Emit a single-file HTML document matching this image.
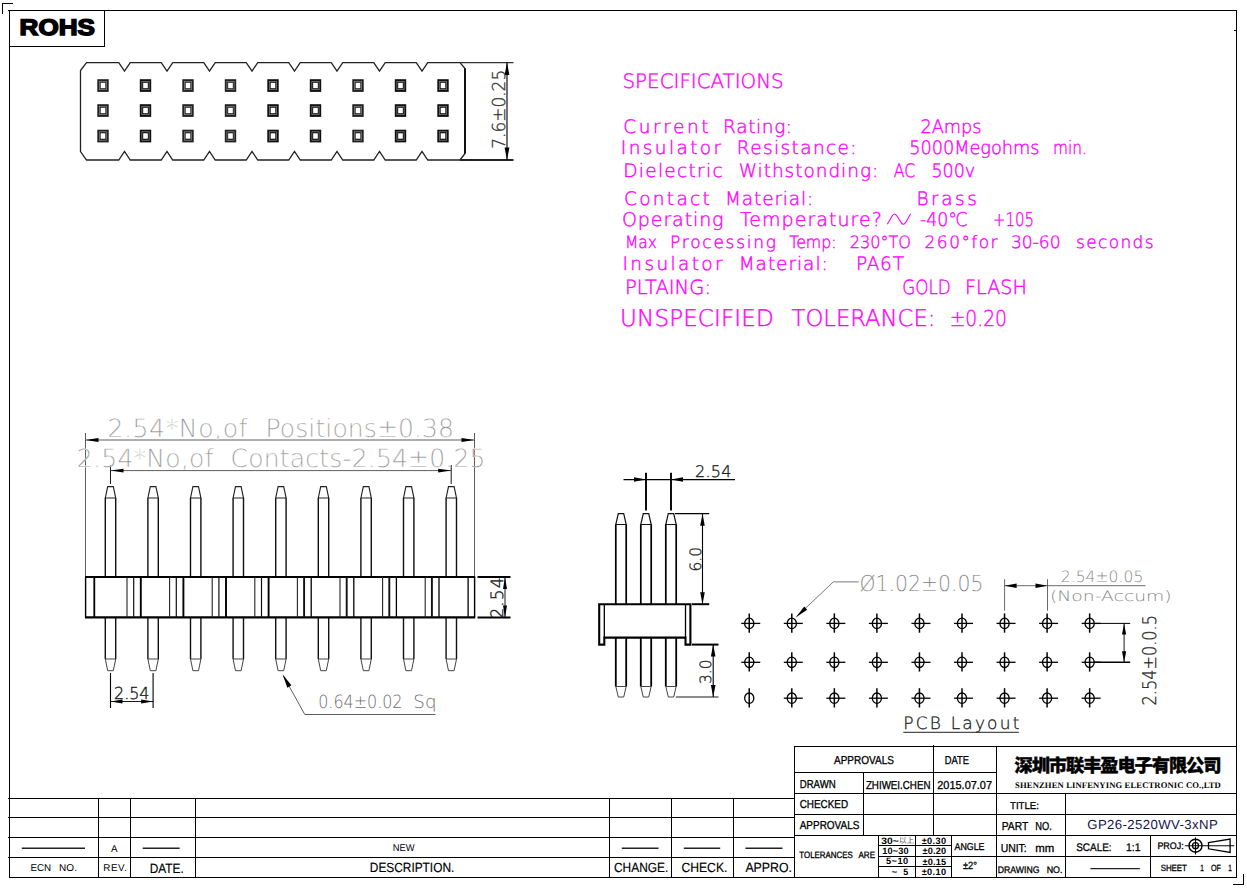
<!DOCTYPE html>
<html><head><meta charset="utf-8"><title>GP26-2520WV-3xNP</title>
<style>html,body{margin:0;padding:0;background:#fff;overflow:hidden}svg{display:block}text{white-space:pre}</style></head>
<body><svg width="1247" height="888" viewBox="0 0 1247 888" text-rendering="geometricPrecision">
<rect width="1247" height="888" fill="#fff"/>
<rect x="8" y="10.0" width="1229" height="1" fill="#000" shape-rendering="crispEdges"/>
<rect x="9.0" y="10" width="1" height="867" fill="#000" shape-rendering="crispEdges"/>
<rect x="1236.0" y="10" width="1" height="784" fill="#000" shape-rendering="crispEdges"/>
<rect x="2" y="3.0" width="11" height="1" fill="#000" shape-rendering="crispEdges"/>
<rect x="2.0" y="3" width="1" height="11" fill="#000" shape-rendering="crispEdges"/>
<rect x="1233" y="884.0" width="11" height="1" fill="#000" shape-rendering="crispEdges"/>
<rect x="1243.0" y="874" width="1" height="11" fill="#000" shape-rendering="crispEdges"/>
<rect x="1234" y="30.0" width="3" height="1" fill="#000" shape-rendering="crispEdges"/>
<rect x="9" y="46.0" width="96" height="1" fill="#000" shape-rendering="crispEdges"/>
<rect x="104.0" y="10" width="1" height="37" fill="#000" shape-rendering="crispEdges"/>
<text x="19.6" y="35.3" font-family="'Liberation Sans',sans-serif" font-size="22.6" fill="#000" font-weight="bold" textLength="75.2" lengthAdjust="spacingAndGlyphs" stroke="#000" stroke-width="1.5" >ROHS</text>
<path d="M86.5,62.6 L118.75,62.6 L124.5,71.1 L130.25,62.6 L161.25,62.6 L167.0,71.1 L172.75,62.6 L203.75,62.6 L209.5,71.1 L215.25,62.6 L246.25,62.6 L252.0,71.1 L257.75,62.6 L288.75,62.6 L294.5,71.1 L300.25,62.6 L331.25,62.6 L337.0,71.1 L342.75,62.6 L373.75,62.6 L379.5,71.1 L385.25,62.6 L416.25,62.6 L422.0,71.1 L427.75,62.6 L460,62.6 L465,68.5 L465,153.5 L460,160 L427.75,160 L422.0,151.5 L416.25,160 L385.25,160 L379.5,151.5 L373.75,160 L342.75,160 L337.0,151.5 L331.25,160 L300.25,160 L294.5,151.5 L288.75,160 L257.75,160 L252.0,151.5 L246.25,160 L215.25,160 L209.5,151.5 L203.75,160 L172.75,160 L167.0,151.5 L161.25,160 L130.25,160 L124.5,151.5 L118.75,160 L86.5,160 L80.5,151.5 L80.5,70.5 Z" stroke="#222" stroke-width="1.3" fill="none" />
<line x1="465" y1="68.5" x2="465" y2="153.5" stroke="#000" stroke-width="1.7" />
<rect x="97.3" y="79.2" width="11.4" height="12.7" fill="#222"/>
<rect x="99.4" y="81.3" width="7.2" height="8.4" fill="none" stroke="#999" stroke-width="0.6"/>
<rect x="100.7" y="82.8" width="4.6" height="5.4" fill="#fff"/>
<rect x="139.8" y="79.2" width="11.4" height="12.7" fill="#111"/>
<rect x="141.9" y="81.3" width="7.2" height="8.4" fill="none" stroke="#999" stroke-width="0.6"/>
<rect x="143.2" y="82.8" width="4.6" height="5.4" fill="#fff"/>
<rect x="182.3" y="79.2" width="11.4" height="12.7" fill="#222"/>
<rect x="184.4" y="81.3" width="7.2" height="8.4" fill="none" stroke="#999" stroke-width="0.6"/>
<rect x="185.7" y="82.8" width="4.6" height="5.4" fill="#fff"/>
<rect x="224.8" y="79.2" width="11.4" height="12.7" fill="#222"/>
<rect x="226.9" y="81.3" width="7.2" height="8.4" fill="none" stroke="#999" stroke-width="0.6"/>
<rect x="228.2" y="82.8" width="4.6" height="5.4" fill="#fff"/>
<rect x="267.3" y="79.2" width="11.4" height="12.7" fill="#111"/>
<rect x="269.4" y="81.3" width="7.2" height="8.4" fill="none" stroke="#999" stroke-width="0.6"/>
<rect x="270.7" y="82.8" width="4.6" height="5.4" fill="#fff"/>
<rect x="309.8" y="79.2" width="11.4" height="12.7" fill="#111"/>
<rect x="311.9" y="81.3" width="7.2" height="8.4" fill="none" stroke="#999" stroke-width="0.6"/>
<rect x="313.2" y="82.8" width="4.6" height="5.4" fill="#fff"/>
<rect x="352.3" y="79.2" width="11.4" height="12.7" fill="#222"/>
<rect x="354.4" y="81.3" width="7.2" height="8.4" fill="none" stroke="#999" stroke-width="0.6"/>
<rect x="355.7" y="82.8" width="4.6" height="5.4" fill="#fff"/>
<rect x="394.8" y="79.2" width="11.4" height="12.7" fill="#111"/>
<rect x="396.9" y="81.3" width="7.2" height="8.4" fill="none" stroke="#999" stroke-width="0.6"/>
<rect x="398.2" y="82.8" width="4.6" height="5.4" fill="#fff"/>
<rect x="437.3" y="79.2" width="11.4" height="12.7" fill="#111"/>
<rect x="439.4" y="81.3" width="7.2" height="8.4" fill="none" stroke="#999" stroke-width="0.6"/>
<rect x="440.7" y="82.8" width="4.6" height="5.4" fill="#fff"/>
<rect x="97.3" y="104.2" width="11.4" height="12.7" fill="#222"/>
<rect x="99.4" y="106.3" width="7.2" height="8.4" fill="none" stroke="#999" stroke-width="0.6"/>
<rect x="100.7" y="107.8" width="4.6" height="5.4" fill="#fff"/>
<rect x="139.8" y="104.2" width="11.4" height="12.7" fill="#111"/>
<rect x="141.9" y="106.3" width="7.2" height="8.4" fill="none" stroke="#999" stroke-width="0.6"/>
<rect x="143.2" y="107.8" width="4.6" height="5.4" fill="#fff"/>
<rect x="182.3" y="104.2" width="11.4" height="12.7" fill="#222"/>
<rect x="184.4" y="106.3" width="7.2" height="8.4" fill="none" stroke="#999" stroke-width="0.6"/>
<rect x="185.7" y="107.8" width="4.6" height="5.4" fill="#fff"/>
<rect x="224.8" y="104.2" width="11.4" height="12.7" fill="#222"/>
<rect x="226.9" y="106.3" width="7.2" height="8.4" fill="none" stroke="#999" stroke-width="0.6"/>
<rect x="228.2" y="107.8" width="4.6" height="5.4" fill="#fff"/>
<rect x="267.3" y="104.2" width="11.4" height="12.7" fill="#111"/>
<rect x="269.4" y="106.3" width="7.2" height="8.4" fill="none" stroke="#999" stroke-width="0.6"/>
<rect x="270.7" y="107.8" width="4.6" height="5.4" fill="#fff"/>
<rect x="309.8" y="104.2" width="11.4" height="12.7" fill="#111"/>
<rect x="311.9" y="106.3" width="7.2" height="8.4" fill="none" stroke="#999" stroke-width="0.6"/>
<rect x="313.2" y="107.8" width="4.6" height="5.4" fill="#fff"/>
<rect x="352.3" y="104.2" width="11.4" height="12.7" fill="#222"/>
<rect x="354.4" y="106.3" width="7.2" height="8.4" fill="none" stroke="#999" stroke-width="0.6"/>
<rect x="355.7" y="107.8" width="4.6" height="5.4" fill="#fff"/>
<rect x="394.8" y="104.2" width="11.4" height="12.7" fill="#111"/>
<rect x="396.9" y="106.3" width="7.2" height="8.4" fill="none" stroke="#999" stroke-width="0.6"/>
<rect x="398.2" y="107.8" width="4.6" height="5.4" fill="#fff"/>
<rect x="437.3" y="104.2" width="11.4" height="12.7" fill="#111"/>
<rect x="439.4" y="106.3" width="7.2" height="8.4" fill="none" stroke="#999" stroke-width="0.6"/>
<rect x="440.7" y="107.8" width="4.6" height="5.4" fill="#fff"/>
<rect x="97.3" y="129.7" width="11.4" height="12.7" fill="#222"/>
<rect x="99.4" y="131.8" width="7.2" height="8.4" fill="none" stroke="#999" stroke-width="0.6"/>
<rect x="100.7" y="133.3" width="4.6" height="5.4" fill="#fff"/>
<rect x="139.8" y="129.7" width="11.4" height="12.7" fill="#111"/>
<rect x="141.9" y="131.8" width="7.2" height="8.4" fill="none" stroke="#999" stroke-width="0.6"/>
<rect x="143.2" y="133.3" width="4.6" height="5.4" fill="#fff"/>
<rect x="182.3" y="129.7" width="11.4" height="12.7" fill="#222"/>
<rect x="184.4" y="131.8" width="7.2" height="8.4" fill="none" stroke="#999" stroke-width="0.6"/>
<rect x="185.7" y="133.3" width="4.6" height="5.4" fill="#fff"/>
<rect x="224.8" y="129.7" width="11.4" height="12.7" fill="#222"/>
<rect x="226.9" y="131.8" width="7.2" height="8.4" fill="none" stroke="#999" stroke-width="0.6"/>
<rect x="228.2" y="133.3" width="4.6" height="5.4" fill="#fff"/>
<rect x="267.3" y="129.7" width="11.4" height="12.7" fill="#111"/>
<rect x="269.4" y="131.8" width="7.2" height="8.4" fill="none" stroke="#999" stroke-width="0.6"/>
<rect x="270.7" y="133.3" width="4.6" height="5.4" fill="#fff"/>
<rect x="309.8" y="129.7" width="11.4" height="12.7" fill="#111"/>
<rect x="311.9" y="131.8" width="7.2" height="8.4" fill="none" stroke="#999" stroke-width="0.6"/>
<rect x="313.2" y="133.3" width="4.6" height="5.4" fill="#fff"/>
<rect x="352.3" y="129.7" width="11.4" height="12.7" fill="#222"/>
<rect x="354.4" y="131.8" width="7.2" height="8.4" fill="none" stroke="#999" stroke-width="0.6"/>
<rect x="355.7" y="133.3" width="4.6" height="5.4" fill="#fff"/>
<rect x="394.8" y="129.7" width="11.4" height="12.7" fill="#111"/>
<rect x="396.9" y="131.8" width="7.2" height="8.4" fill="none" stroke="#999" stroke-width="0.6"/>
<rect x="398.2" y="133.3" width="4.6" height="5.4" fill="#fff"/>
<rect x="437.3" y="129.7" width="11.4" height="12.7" fill="#111"/>
<rect x="439.4" y="131.8" width="7.2" height="8.4" fill="none" stroke="#999" stroke-width="0.6"/>
<rect x="440.7" y="133.3" width="4.6" height="5.4" fill="#fff"/>
<line x1="460" y1="62.6" x2="513.5" y2="62.6" stroke="#333" stroke-width="1.1" />
<line x1="460" y1="160" x2="513.5" y2="160" stroke="#222" stroke-width="1.9" />
<line x1="507" y1="62.6" x2="507" y2="160" stroke="#111" stroke-width="1.2" />
<polygon points="507.00,62.60 509.40,75.10 504.60,75.10" fill="#000"/>
<polygon points="507.00,160.00 504.60,147.50 509.40,147.50" fill="#000"/>
<text x="505.3" y="148.8" font-family="'DejaVu Sans Light','DejaVu Sans','Liberation Sans',sans-serif" font-size="17.8" fill="#333" textLength="79" lengthAdjust="spacingAndGlyphs" transform="rotate(-90 505.3 148.8)" stroke="#333" stroke-width="0.35" >7.6±0.25</text>
<text font-family="'DejaVu Sans Light','DejaVu Sans','Liberation Sans',sans-serif" font-size="20" fill="#ff00ff" stroke="#ff00ff" stroke-width="0.4"><tspan x="622.5" y="88.2" textLength="161.2" lengthAdjust="spacingAndGlyphs">SPECIFICATIONS</tspan></text>
<text font-family="'DejaVu Sans Light','DejaVu Sans','Liberation Sans',sans-serif" font-size="18.5" fill="#ff00ff" stroke="#ff00ff" stroke-width="0.4"><tspan x="623.2" y="132.6" textLength="85.4" lengthAdjust="spacing">Current</tspan> <tspan x="723.1" y="132.6" textLength="69.0" lengthAdjust="spacing">Rating:</tspan> <tspan x="920.5" y="132.6" textLength="60.9" lengthAdjust="spacingAndGlyphs">2Amps</tspan></text>
<text font-family="'DejaVu Sans Light','DejaVu Sans','Liberation Sans',sans-serif" font-size="18.5" fill="#ff00ff" stroke="#ff00ff" stroke-width="0.4"><tspan x="620.8" y="154.3" textLength="100.3" lengthAdjust="spacing">Insulator</tspan> <tspan x="736.8" y="154.3" textLength="119.8" lengthAdjust="spacing">Resistance:</tspan> <tspan x="909.2" y="154.3" textLength="130.3" lengthAdjust="spacingAndGlyphs">5000Megohms</tspan> <tspan x="1053" y="154.3" textLength="33.8" lengthAdjust="spacingAndGlyphs">min.</tspan></text>
<text font-family="'DejaVu Sans Light','DejaVu Sans','Liberation Sans',sans-serif" font-size="18.5" fill="#ff00ff" stroke="#ff00ff" stroke-width="0.4"><tspan x="623.2" y="177.2" textLength="99.4" lengthAdjust="spacing">Dielectric</tspan> <tspan x="738.7" y="177.2" textLength="139.5" lengthAdjust="spacing">Withstonding:</tspan> <tspan x="893.7" y="177.2" textLength="21.4" lengthAdjust="spacingAndGlyphs">AC</tspan> <tspan x="931.4" y="177.2" textLength="43.7" lengthAdjust="spacingAndGlyphs">500v</tspan></text>
<text font-family="'DejaVu Sans Light','DejaVu Sans','Liberation Sans',sans-serif" font-size="18.5" fill="#ff00ff" stroke="#ff00ff" stroke-width="0.4"><tspan x="624" y="205" textLength="85.8" lengthAdjust="spacing">Contact</tspan> <tspan x="725" y="205" textLength="88.3" lengthAdjust="spacing">Material:</tspan> <tspan x="916.5" y="205" textLength="60.3" lengthAdjust="spacing">Brass</tspan></text>
<text font-family="'DejaVu Sans Light','DejaVu Sans','Liberation Sans',sans-serif" font-size="19" fill="#ff00ff" stroke="#ff00ff" stroke-width="0.4"><tspan x="622" y="225.7" textLength="101.5" lengthAdjust="spacing">Operating</tspan> <tspan x="739.9" y="225.7" textLength="141.9" lengthAdjust="spacing">Temperature?</tspan></text>
<path d="M887.3,224.3 L892.3,215.8 Q894.5,212.3 896.8,215.8 L901.2,222.6 Q903.4,226 905.7,222.4 L910.6,213.8" stroke="#ff00ff" stroke-width="1.1" fill="none" />
<text font-family="'DejaVu Sans Light','DejaVu Sans','Liberation Sans',sans-serif" font-size="19" fill="#ff00ff" stroke="#ff00ff" stroke-width="0.4"><tspan x="920" y="225.7" textLength="47.8" lengthAdjust="spacingAndGlyphs">-40℃</tspan> <tspan x="993" y="225.7" textLength="41" lengthAdjust="spacingAndGlyphs">+105</tspan></text>
<text font-family="'DejaVu Sans Light','DejaVu Sans','Liberation Sans',sans-serif" font-size="17" fill="#ff00ff" stroke="#ff00ff" stroke-width="0.4"><tspan x="624.9" y="248.3" textLength="32.0" lengthAdjust="spacingAndGlyphs">Max</tspan> <tspan x="670.1" y="248.3" textLength="105.9" lengthAdjust="spacing">Processing</tspan> <tspan x="789.2" y="248.3" textLength="47.4" lengthAdjust="spacingAndGlyphs">Temp:</tspan> <tspan x="849.8" y="248.3" textLength="61.2" lengthAdjust="spacingAndGlyphs">230°TO</tspan> <tspan x="924.6" y="248.3" textLength="73.0" lengthAdjust="spacing">260°for</tspan> <tspan x="1011" y="248.3" textLength="49.5" lengthAdjust="spacing">30-60</tspan> <tspan x="1076" y="248.3" textLength="77.5" lengthAdjust="spacing">seconds</tspan></text>
<text font-family="'DejaVu Sans Light','DejaVu Sans','Liberation Sans',sans-serif" font-size="18.5" fill="#ff00ff" stroke="#ff00ff" stroke-width="0.4"><tspan x="622.5" y="270.2" textLength="100.1" lengthAdjust="spacing">Insulator</tspan> <tspan x="738.7" y="270.2" textLength="89.0" lengthAdjust="spacing">Material:</tspan> <tspan x="855.9" y="270.2" textLength="48.1" lengthAdjust="spacing">PA6T</tspan></text>
<text font-family="'DejaVu Sans Light','DejaVu Sans','Liberation Sans',sans-serif" font-size="19.5" fill="#ff00ff" stroke="#ff00ff" stroke-width="0.4"><tspan x="624.9" y="293.8" textLength="86.1" lengthAdjust="spacing">PLTAING:</tspan> <tspan x="902.2" y="293.8" textLength="48.6" lengthAdjust="spacingAndGlyphs">GOLD</tspan> <tspan x="965.1" y="293.8" textLength="61.7" lengthAdjust="spacingAndGlyphs">FLASH</tspan></text>
<text font-family="'DejaVu Sans Light','DejaVu Sans','Liberation Sans',sans-serif" font-size="23" fill="#ff00ff" stroke="#ff00ff" stroke-width="0.4"><tspan x="620.1" y="326" textLength="153.5" lengthAdjust="spacing">UNSPECIFIED</tspan> <tspan x="791.6" y="326" textLength="143.8" lengthAdjust="spacingAndGlyphs">TOLERANCE:</tspan></text>
<text font-family="'DejaVu Sans Light','DejaVu Sans','Liberation Sans',sans-serif" font-size="22" fill="#ff00ff" stroke="#ff00ff" stroke-width="0.4"><tspan x="949.7" y="325.5" textLength="57.3" lengthAdjust="spacingAndGlyphs">±0.20</tspan></text>
<line x1="85.5" y1="433" x2="85.5" y2="577" stroke="#333" stroke-width="0.8" />
<line x1="474.5" y1="433" x2="474.5" y2="577" stroke="#333" stroke-width="0.8" />
<line x1="85.5" y1="440" x2="474.5" y2="440" stroke="#333" stroke-width="0.8" />
<polygon points="85.50,440.00 98.50,438.10 98.50,441.90" fill="#000"/>
<polygon points="474.50,440.00 461.50,441.90 461.50,438.10" fill="#000"/>
<text font-family="'DejaVu Sans Light','DejaVu Sans','Liberation Sans',sans-serif" font-size="25" fill="#7d7d7d" stroke="#fff" stroke-width="0.35"><tspan x="107.4" y="437" textLength="140.1" lengthAdjust="spacing">2.54*No,of</tspan> <tspan x="265.5" y="437" textLength="188.5" lengthAdjust="spacing">Positions±0.38</tspan></text>
<line x1="110.5" y1="465" x2="110.5" y2="484" stroke="#000" stroke-width="0.9" />
<line x1="451.2" y1="465" x2="451.2" y2="484" stroke="#000" stroke-width="0.9" />
<line x1="110.5" y1="470.6" x2="451.2" y2="470.6" stroke="#333" stroke-width="0.8" />
<polygon points="110.50,470.60 123.50,468.70 123.50,472.50" fill="#000"/>
<polygon points="451.20,470.60 438.20,472.50 438.20,468.70" fill="#000"/>
<text font-family="'DejaVu Sans Light','DejaVu Sans','Liberation Sans',sans-serif" font-size="25" fill="#7d7d7d" stroke="#fff" stroke-width="0.35"><tspan x="76.8" y="467" textLength="136.7" lengthAdjust="spacing">2.54*No,of</tspan> <tspan x="230.5" y="467" textLength="255.0" lengthAdjust="spacing">Contacts-2.54±0.25</tspan></text>
<path d="M105.3,577 V498 M115.7,498 V577" stroke="#111" stroke-width="1.4" fill="none" />
<path d="M105.3,498 L107.7,486.6 H113.3 L115.7,498 Z" stroke="#222" stroke-width="1.15" fill="none" />
<path d="M105.3,617.5 V659 M115.7,659 V617.5" stroke="#111" stroke-width="1.4" fill="none" />
<path d="M105.3,659 L107.7,670.7 H113.3 L115.7,659 Z" stroke="#444" stroke-width="1.0" fill="none" />
<path d="M147.9,577 V498 M158.29999999999998,498 V577" stroke="#111" stroke-width="1.4" fill="none" />
<path d="M147.9,498 L150.29999999999998,486.6 H155.9 L158.29999999999998,498 Z" stroke="#222" stroke-width="1.15" fill="none" />
<path d="M147.9,617.5 V659 M158.29999999999998,659 V617.5" stroke="#111" stroke-width="1.4" fill="none" />
<path d="M147.9,659 L150.29999999999998,670.7 H155.9 L158.29999999999998,659 Z" stroke="#444" stroke-width="1.0" fill="none" />
<path d="M190.5,577 V498 M200.89999999999998,498 V577" stroke="#111" stroke-width="1.4" fill="none" />
<path d="M190.5,498 L192.89999999999998,486.6 H198.5 L200.89999999999998,498 Z" stroke="#222" stroke-width="1.15" fill="none" />
<path d="M190.5,617.5 V659 M200.89999999999998,659 V617.5" stroke="#111" stroke-width="1.4" fill="none" />
<path d="M190.5,659 L192.89999999999998,670.7 H198.5 L200.89999999999998,659 Z" stroke="#444" stroke-width="1.0" fill="none" />
<path d="M233.10000000000002,577 V498 M243.5,498 V577" stroke="#111" stroke-width="1.4" fill="none" />
<path d="M233.10000000000002,498 L235.5,486.6 H241.10000000000002 L243.5,498 Z" stroke="#222" stroke-width="1.15" fill="none" />
<path d="M233.10000000000002,617.5 V659 M243.5,659 V617.5" stroke="#111" stroke-width="1.4" fill="none" />
<path d="M233.10000000000002,659 L235.5,670.7 H241.10000000000002 L243.5,659 Z" stroke="#444" stroke-width="1.0" fill="none" />
<path d="M275.7,577 V498 M286.09999999999997,498 V577" stroke="#111" stroke-width="1.4" fill="none" />
<path d="M275.7,498 L278.09999999999997,486.6 H283.7 L286.09999999999997,498 Z" stroke="#222" stroke-width="1.15" fill="none" />
<path d="M275.7,617.5 V659 M286.09999999999997,659 V617.5" stroke="#111" stroke-width="1.4" fill="none" />
<path d="M275.7,659 L278.09999999999997,670.7 H283.7 L286.09999999999997,659 Z" stroke="#444" stroke-width="1.0" fill="none" />
<path d="M318.3,577 V498 M328.7,498 V577" stroke="#111" stroke-width="1.4" fill="none" />
<path d="M318.3,498 L320.7,486.6 H326.3 L328.7,498 Z" stroke="#222" stroke-width="1.15" fill="none" />
<path d="M318.3,617.5 V659 M328.7,659 V617.5" stroke="#111" stroke-width="1.4" fill="none" />
<path d="M318.3,659 L320.7,670.7 H326.3 L328.7,659 Z" stroke="#444" stroke-width="1.0" fill="none" />
<path d="M360.90000000000003,577 V498 M371.3,498 V577" stroke="#111" stroke-width="1.4" fill="none" />
<path d="M360.90000000000003,498 L363.3,486.6 H368.90000000000003 L371.3,498 Z" stroke="#222" stroke-width="1.15" fill="none" />
<path d="M360.90000000000003,617.5 V659 M371.3,659 V617.5" stroke="#111" stroke-width="1.4" fill="none" />
<path d="M360.90000000000003,659 L363.3,670.7 H368.90000000000003 L371.3,659 Z" stroke="#444" stroke-width="1.0" fill="none" />
<path d="M403.5,577 V498 M413.9,498 V577" stroke="#111" stroke-width="1.4" fill="none" />
<path d="M403.5,498 L405.9,486.6 H411.5 L413.9,498 Z" stroke="#222" stroke-width="1.15" fill="none" />
<path d="M403.5,617.5 V659 M413.9,659 V617.5" stroke="#111" stroke-width="1.4" fill="none" />
<path d="M403.5,659 L405.9,670.7 H411.5 L413.9,659 Z" stroke="#444" stroke-width="1.0" fill="none" />
<path d="M446.1,577 V498 M456.5,498 V577" stroke="#111" stroke-width="1.4" fill="none" />
<path d="M446.1,498 L448.5,486.6 H454.1 L456.5,498 Z" stroke="#222" stroke-width="1.15" fill="none" />
<path d="M446.1,617.5 V659 M456.5,659 V617.5" stroke="#111" stroke-width="1.4" fill="none" />
<path d="M446.1,659 L448.5,670.7 H454.1 L456.5,659 Z" stroke="#444" stroke-width="1.0" fill="none" />
<line x1="85" y1="577" x2="475.2" y2="577" stroke="#000" stroke-width="2.2" />
<line x1="85" y1="617.4" x2="475.2" y2="617.4" stroke="#000" stroke-width="2.2" />
<line x1="85.6" y1="577" x2="85.6" y2="617.4" stroke="#000" stroke-width="1.4" />
<line x1="474.6" y1="577" x2="474.6" y2="617.4" stroke="#000" stroke-width="1.4" />
<line x1="94.3" y1="577" x2="94.3" y2="617.4" stroke="#000" stroke-width="1.8" />
<line x1="468.1" y1="577" x2="468.1" y2="617.4" stroke="#000" stroke-width="1.3" />
<line x1="127.00000000000001" y1="577" x2="127.00000000000001" y2="617.4" stroke="#222" stroke-width="1.1" />
<line x1="133.70000000000002" y1="577" x2="133.70000000000002" y2="617.4" stroke="#111" stroke-width="1.2" />
<line x1="140.8" y1="577" x2="140.8" y2="617.4" stroke="#000" stroke-width="1.9" />
<line x1="169.6" y1="577" x2="169.6" y2="617.4" stroke="#222" stroke-width="1.1" />
<line x1="176.3" y1="577" x2="176.3" y2="617.4" stroke="#111" stroke-width="1.2" />
<line x1="183.4" y1="577" x2="183.4" y2="617.4" stroke="#000" stroke-width="1.9" />
<line x1="212.2" y1="577" x2="212.2" y2="617.4" stroke="#222" stroke-width="1.1" />
<line x1="218.9" y1="577" x2="218.9" y2="617.4" stroke="#111" stroke-width="1.2" />
<line x1="226.0" y1="577" x2="226.0" y2="617.4" stroke="#000" stroke-width="1.9" />
<line x1="254.8" y1="577" x2="254.8" y2="617.4" stroke="#222" stroke-width="1.1" />
<line x1="261.5" y1="577" x2="261.5" y2="617.4" stroke="#111" stroke-width="1.2" />
<line x1="268.6" y1="577" x2="268.6" y2="617.4" stroke="#000" stroke-width="1.9" />
<line x1="297.4" y1="577" x2="297.4" y2="617.4" stroke="#222" stroke-width="1.1" />
<line x1="304.09999999999997" y1="577" x2="304.09999999999997" y2="617.4" stroke="#111" stroke-width="1.9" />
<line x1="311.2" y1="577" x2="311.2" y2="617.4" stroke="#000" stroke-width="1.3" />
<line x1="340.0" y1="577" x2="340.0" y2="617.4" stroke="#222" stroke-width="1.1" />
<line x1="346.7" y1="577" x2="346.7" y2="617.4" stroke="#111" stroke-width="1.9" />
<line x1="353.8" y1="577" x2="353.8" y2="617.4" stroke="#000" stroke-width="1.3" />
<line x1="382.6" y1="577" x2="382.6" y2="617.4" stroke="#222" stroke-width="1.1" />
<line x1="389.3" y1="577" x2="389.3" y2="617.4" stroke="#111" stroke-width="1.9" />
<line x1="396.40000000000003" y1="577" x2="396.40000000000003" y2="617.4" stroke="#000" stroke-width="1.3" />
<line x1="425.2" y1="577" x2="425.2" y2="617.4" stroke="#222" stroke-width="1.1" />
<line x1="431.9" y1="577" x2="431.9" y2="617.4" stroke="#111" stroke-width="1.9" />
<line x1="439.0" y1="577" x2="439.0" y2="617.4" stroke="#000" stroke-width="1.3" />
<line x1="477.5" y1="577" x2="510.5" y2="577" stroke="#000" stroke-width="2" />
<line x1="477.5" y1="617.4" x2="510.5" y2="617.4" stroke="#000" stroke-width="2" />
<line x1="505" y1="577" x2="505" y2="617.4" stroke="#000" stroke-width="0.9" />
<polygon points="505.00,577.00 507.00,589.00 503.00,589.00" fill="#000"/>
<polygon points="505.00,617.40 503.00,605.40 507.00,605.40" fill="#000"/>
<text x="503" y="618.5" font-family="'DejaVu Sans Light','DejaVu Sans','Liberation Sans',sans-serif" font-size="17" fill="#222" textLength="41" lengthAdjust="spacing" transform="rotate(-90 503 618.5)" stroke="#222" stroke-width="0.4" >2.54</text>
<line x1="110.5" y1="673" x2="110.5" y2="708" stroke="#000" stroke-width="1.1" />
<line x1="153.1" y1="673" x2="153.1" y2="708" stroke="#000" stroke-width="1.1" />
<line x1="110.5" y1="701.5" x2="153.1" y2="701.5" stroke="#000" stroke-width="0.9" />
<polygon points="110.50,701.50 122.50,699.40 122.50,703.60" fill="#000"/>
<polygon points="153.10,701.50 141.10,703.60 141.10,699.40" fill="#000"/>
<text x="114" y="698.8" font-family="'DejaVu Sans Light','DejaVu Sans','Liberation Sans',sans-serif" font-size="16.5" fill="#222" textLength="35.5" lengthAdjust="spacingAndGlyphs" stroke="#222" stroke-width="0.4" >2.54</text>
<path d="M283.5,676 L304.8,714.5 H435.5" stroke="#333" stroke-width="0.8" fill="none" />
<polygon points="282.50,674.30 291.37,685.37 287.37,687.63" fill="#000"/>
<text font-family="'DejaVu Sans Light','DejaVu Sans','Liberation Sans',sans-serif" font-size="18.3" fill="#6e6e6e"><tspan x="318.2" y="707.8" textLength="84.3" lengthAdjust="spacingAndGlyphs">0.64±0.02</tspan> <tspan x="413.2" y="707.8" textLength="23.3" lengthAdjust="spacing">Sq</tspan></text>
<path d="M615.8,604 V524.5 M626.2,524.5 V604" stroke="#000" stroke-width="1.7" fill="none" />
<path d="M615.8,524.5 L618.3,513.7 H623.7 L626.2,524.5 Z" stroke="#111" stroke-width="1.2" fill="none" />
<path d="M615.8,637.6 V686.5 M626.2,686.5 V637.6" stroke="#000" stroke-width="1.8" fill="none" />
<path d="M615.8,686.5 L618.3,697 H623.7 L626.2,686.5 Z" stroke="#444" stroke-width="1.0" fill="none" />
<path d="M640.8,604 V524.5 M651.2,524.5 V604" stroke="#000" stroke-width="1.7" fill="none" />
<path d="M640.8,524.5 L643.3,513.7 H648.7 L651.2,524.5 Z" stroke="#111" stroke-width="1.2" fill="none" />
<path d="M640.8,637.6 V686.5 M651.2,686.5 V637.6" stroke="#000" stroke-width="1.8" fill="none" />
<path d="M640.8,686.5 L643.3,697 H648.7 L651.2,686.5 Z" stroke="#444" stroke-width="1.0" fill="none" />
<path d="M665.8,604 V524.5 M676.2,524.5 V604" stroke="#000" stroke-width="1.7" fill="none" />
<path d="M665.8,524.5 L668.3,513.7 H673.7 L676.2,524.5 Z" stroke="#111" stroke-width="1.2" fill="none" />
<path d="M665.8,637.6 V686.5 M676.2,686.5 V637.6" stroke="#000" stroke-width="1.8" fill="none" />
<path d="M665.8,686.5 L668.3,697 H673.7 L676.2,686.5 Z" stroke="#444" stroke-width="1.0" fill="none" />
<path d="M599.2,604.2 H690.4 V644.6 H685.5 V637.6 H604.3 V644.6 H599.2 Z" stroke="#000" stroke-width="2.1" fill="none" />
<line x1="604.3" y1="604.2" x2="604.3" y2="637.6" stroke="#000" stroke-width="1.3" />
<line x1="685.5" y1="604.2" x2="685.5" y2="637.6" stroke="#000" stroke-width="1.3" />
<line x1="646" y1="472.8" x2="646" y2="510.5" stroke="#000" stroke-width="1.9" />
<line x1="671" y1="472.8" x2="671" y2="510.5" stroke="#000" stroke-width="1.9" />
<line x1="623.5" y1="479.6" x2="735" y2="479.6" stroke="#000" stroke-width="1.2" />
<polygon points="646.00,479.50 634.00,481.70 634.00,477.30" fill="#000"/>
<polygon points="671.00,479.50 683.00,477.30 683.00,481.70" fill="#000"/>
<text x="695" y="476.6" font-family="'DejaVu Sans Light','DejaVu Sans','Liberation Sans',sans-serif" font-size="16" fill="#222" textLength="36.5" lengthAdjust="spacing" stroke="#222" stroke-width="0.35" >2.54</text>
<line x1="675" y1="513.7" x2="709.2" y2="513.7" stroke="#000" stroke-width="1.3" />
<line x1="692" y1="604.2" x2="709.2" y2="604.2" stroke="#000" stroke-width="2" />
<line x1="702.5" y1="513.7" x2="702.5" y2="604.2" stroke="#000" stroke-width="1.1" />
<polygon points="702.50,513.70 704.80,525.70 700.20,525.70" fill="#000"/>
<polygon points="702.50,604.20 700.20,592.20 704.80,592.20" fill="#000"/>
<text x="701" y="571.5" font-family="'DejaVu Sans Light','DejaVu Sans','Liberation Sans',sans-serif" font-size="15.5" fill="#222" textLength="24.5" lengthAdjust="spacingAndGlyphs" transform="rotate(-90 701 571.5)" stroke="#222" stroke-width="0.35" >6.0</text>
<line x1="692" y1="644.6" x2="718.5" y2="644.6" stroke="#000" stroke-width="2" />
<line x1="675.8" y1="697" x2="718.5" y2="697" stroke="#000" stroke-width="0.9" />
<line x1="713.2" y1="644.6" x2="713.2" y2="697" stroke="#000" stroke-width="1.1" />
<polygon points="713.20,644.60 715.50,656.60 710.90,656.60" fill="#000"/>
<polygon points="713.20,697.00 710.90,685.00 715.50,685.00" fill="#000"/>
<text x="710.5" y="684" font-family="'DejaVu Sans Light','DejaVu Sans','Liberation Sans',sans-serif" font-size="15.5" fill="#222" textLength="24.5" lengthAdjust="spacingAndGlyphs" transform="rotate(-90 710.5 684)" stroke="#222" stroke-width="0.35" >3.0</text>
<ellipse cx="749.25" cy="623.4" rx="4.6" ry="5.2" fill="none" stroke="#000" stroke-width="1.3"/>
<line x1="749.25" y1="613.4" x2="749.25" y2="632.6999999999999" stroke="#000" stroke-width="1.5" />
<line x1="741.25" y1="623.4" x2="760.25" y2="623.4" stroke="#000" stroke-width="1.3" />
<ellipse cx="791.80" cy="623.4" rx="4.6" ry="5.2" fill="none" stroke="#000" stroke-width="1.3"/>
<line x1="791.8" y1="613.4" x2="791.8" y2="632.6999999999999" stroke="#000" stroke-width="1.5" />
<line x1="783.8" y1="623.4" x2="802.8" y2="623.4" stroke="#000" stroke-width="1.3" />
<ellipse cx="834.35" cy="623.4" rx="4.6" ry="5.2" fill="none" stroke="#000" stroke-width="1.3"/>
<line x1="834.35" y1="613.4" x2="834.35" y2="632.6999999999999" stroke="#000" stroke-width="1.5" />
<line x1="826.35" y1="623.4" x2="845.35" y2="623.4" stroke="#000" stroke-width="1.3" />
<ellipse cx="876.90" cy="623.4" rx="4.6" ry="5.2" fill="none" stroke="#000" stroke-width="1.3"/>
<line x1="876.9" y1="613.4" x2="876.9" y2="632.6999999999999" stroke="#000" stroke-width="1.5" />
<line x1="868.9" y1="623.4" x2="887.9" y2="623.4" stroke="#000" stroke-width="1.3" />
<ellipse cx="919.45" cy="623.4" rx="4.6" ry="5.2" fill="none" stroke="#000" stroke-width="1.3"/>
<line x1="919.45" y1="613.4" x2="919.45" y2="632.6999999999999" stroke="#000" stroke-width="1.5" />
<line x1="911.45" y1="623.4" x2="930.45" y2="623.4" stroke="#000" stroke-width="1.3" />
<ellipse cx="962.00" cy="623.4" rx="4.6" ry="5.2" fill="none" stroke="#000" stroke-width="1.3"/>
<line x1="962.0" y1="613.4" x2="962.0" y2="632.6999999999999" stroke="#000" stroke-width="1.5" />
<line x1="954.0" y1="623.4" x2="973.0" y2="623.4" stroke="#000" stroke-width="1.3" />
<ellipse cx="1004.55" cy="623.4" rx="4.6" ry="5.2" fill="none" stroke="#000" stroke-width="1.3"/>
<line x1="1004.55" y1="613.4" x2="1004.55" y2="632.6999999999999" stroke="#000" stroke-width="1.5" />
<line x1="996.55" y1="623.4" x2="1015.55" y2="623.4" stroke="#000" stroke-width="1.3" />
<ellipse cx="1047.10" cy="623.4" rx="4.6" ry="5.2" fill="none" stroke="#000" stroke-width="1.3"/>
<line x1="1047.1" y1="613.4" x2="1047.1" y2="632.6999999999999" stroke="#000" stroke-width="1.5" />
<line x1="1039.1" y1="623.4" x2="1058.1" y2="623.4" stroke="#000" stroke-width="1.3" />
<ellipse cx="1089.65" cy="623.4" rx="4.6" ry="5.2" fill="none" stroke="#000" stroke-width="1.3"/>
<line x1="1089.65" y1="613.4" x2="1089.65" y2="632.6999999999999" stroke="#000" stroke-width="1.5" />
<line x1="1081.65" y1="623.4" x2="1100.65" y2="623.4" stroke="#000" stroke-width="1.3" />
<ellipse cx="749.25" cy="662.3" rx="4.6" ry="5.2" fill="none" stroke="#000" stroke-width="1.3"/>
<line x1="749.25" y1="652.3" x2="749.25" y2="671.5999999999999" stroke="#000" stroke-width="1.5" />
<line x1="741.25" y1="662.3" x2="760.25" y2="662.3" stroke="#000" stroke-width="1.3" />
<ellipse cx="791.80" cy="662.3" rx="4.6" ry="5.2" fill="none" stroke="#000" stroke-width="1.3"/>
<line x1="791.8" y1="652.3" x2="791.8" y2="671.5999999999999" stroke="#000" stroke-width="1.5" />
<line x1="783.8" y1="662.3" x2="802.8" y2="662.3" stroke="#000" stroke-width="1.3" />
<ellipse cx="834.35" cy="662.3" rx="4.6" ry="5.2" fill="none" stroke="#000" stroke-width="1.3"/>
<line x1="834.35" y1="652.3" x2="834.35" y2="671.5999999999999" stroke="#000" stroke-width="1.5" />
<line x1="826.35" y1="662.3" x2="845.35" y2="662.3" stroke="#000" stroke-width="1.3" />
<ellipse cx="876.90" cy="662.3" rx="4.6" ry="5.2" fill="none" stroke="#000" stroke-width="1.3"/>
<line x1="876.9" y1="652.3" x2="876.9" y2="671.5999999999999" stroke="#000" stroke-width="1.5" />
<line x1="868.9" y1="662.3" x2="887.9" y2="662.3" stroke="#000" stroke-width="1.3" />
<ellipse cx="919.45" cy="662.3" rx="4.6" ry="5.2" fill="none" stroke="#000" stroke-width="1.3"/>
<line x1="919.45" y1="652.3" x2="919.45" y2="671.5999999999999" stroke="#000" stroke-width="1.5" />
<line x1="911.45" y1="662.3" x2="930.45" y2="662.3" stroke="#000" stroke-width="1.3" />
<ellipse cx="962.00" cy="662.3" rx="4.6" ry="5.2" fill="none" stroke="#000" stroke-width="1.3"/>
<line x1="962.0" y1="652.3" x2="962.0" y2="671.5999999999999" stroke="#000" stroke-width="1.5" />
<line x1="954.0" y1="662.3" x2="973.0" y2="662.3" stroke="#000" stroke-width="1.3" />
<ellipse cx="1004.55" cy="662.3" rx="4.6" ry="5.2" fill="none" stroke="#000" stroke-width="1.3"/>
<line x1="1004.55" y1="652.3" x2="1004.55" y2="671.5999999999999" stroke="#000" stroke-width="1.5" />
<line x1="996.55" y1="662.3" x2="1015.55" y2="662.3" stroke="#000" stroke-width="1.3" />
<ellipse cx="1047.10" cy="662.3" rx="4.6" ry="5.2" fill="none" stroke="#000" stroke-width="1.3"/>
<line x1="1047.1" y1="652.3" x2="1047.1" y2="671.5999999999999" stroke="#000" stroke-width="1.5" />
<line x1="1039.1" y1="662.3" x2="1058.1" y2="662.3" stroke="#000" stroke-width="1.3" />
<ellipse cx="1089.65" cy="662.3" rx="4.6" ry="5.2" fill="none" stroke="#000" stroke-width="1.3"/>
<line x1="1089.65" y1="652.3" x2="1089.65" y2="671.5999999999999" stroke="#000" stroke-width="1.5" />
<line x1="1081.65" y1="662.3" x2="1100.65" y2="662.3" stroke="#000" stroke-width="1.3" />
<ellipse cx="749.25" cy="698.2" rx="4.6" ry="5.2" fill="none" stroke="#000" stroke-width="1.3"/>
<line x1="749.25" y1="688.2" x2="749.25" y2="707.5" stroke="#000" stroke-width="1.5" />
<ellipse cx="791.80" cy="698.2" rx="4.6" ry="5.2" fill="none" stroke="#000" stroke-width="1.3"/>
<line x1="791.8" y1="688.2" x2="791.8" y2="707.5" stroke="#000" stroke-width="1.5" />
<line x1="783.8" y1="698.2" x2="802.8" y2="698.2" stroke="#000" stroke-width="1.3" />
<ellipse cx="834.35" cy="698.2" rx="4.6" ry="5.2" fill="none" stroke="#000" stroke-width="1.3"/>
<line x1="834.35" y1="688.2" x2="834.35" y2="707.5" stroke="#000" stroke-width="1.5" />
<line x1="826.35" y1="698.2" x2="845.35" y2="698.2" stroke="#000" stroke-width="1.3" />
<ellipse cx="876.90" cy="698.2" rx="4.6" ry="5.2" fill="none" stroke="#000" stroke-width="1.3"/>
<line x1="876.9" y1="688.2" x2="876.9" y2="707.5" stroke="#000" stroke-width="1.5" />
<line x1="868.9" y1="698.2" x2="887.9" y2="698.2" stroke="#000" stroke-width="1.3" />
<ellipse cx="919.45" cy="698.2" rx="4.6" ry="5.2" fill="none" stroke="#000" stroke-width="1.3"/>
<line x1="919.45" y1="688.2" x2="919.45" y2="707.5" stroke="#000" stroke-width="1.5" />
<line x1="911.45" y1="698.2" x2="930.45" y2="698.2" stroke="#000" stroke-width="1.3" />
<ellipse cx="962.00" cy="698.2" rx="4.6" ry="5.2" fill="none" stroke="#000" stroke-width="1.3"/>
<line x1="962.0" y1="688.2" x2="962.0" y2="707.5" stroke="#000" stroke-width="1.5" />
<line x1="954.0" y1="698.2" x2="973.0" y2="698.2" stroke="#000" stroke-width="1.3" />
<ellipse cx="1004.55" cy="698.2" rx="4.6" ry="5.2" fill="none" stroke="#000" stroke-width="1.3"/>
<line x1="1004.55" y1="688.2" x2="1004.55" y2="707.5" stroke="#000" stroke-width="1.5" />
<line x1="996.55" y1="698.2" x2="1015.55" y2="698.2" stroke="#000" stroke-width="1.3" />
<ellipse cx="1047.10" cy="698.2" rx="4.6" ry="5.2" fill="none" stroke="#000" stroke-width="1.3"/>
<line x1="1047.1" y1="688.2" x2="1047.1" y2="707.5" stroke="#000" stroke-width="1.5" />
<line x1="1039.1" y1="698.2" x2="1058.1" y2="698.2" stroke="#000" stroke-width="1.3" />
<ellipse cx="1089.65" cy="698.2" rx="4.6" ry="5.2" fill="none" stroke="#000" stroke-width="1.3"/>
<line x1="1089.65" y1="688.2" x2="1089.65" y2="707.5" stroke="#000" stroke-width="1.5" />
<line x1="1081.65" y1="698.2" x2="1100.65" y2="698.2" stroke="#000" stroke-width="1.3" />
<path d="M796.5,616.8 L833.3,581.9 H858.7" stroke="#555" stroke-width="0.8" fill="none" />
<polygon points="795.90,617.30 804.20,606.43 807.22,609.63" fill="#000"/>
<text font-family="'DejaVu Sans Light','DejaVu Sans','Liberation Sans',sans-serif" font-size="22" fill="#787878" stroke="#fff" stroke-width="0.15"><tspan x="859.5" y="591.4" textLength="124.0" lengthAdjust="spacingAndGlyphs">Ø1.02±0.05</tspan></text>
<line x1="1004.6" y1="579.2" x2="1004.6" y2="610.7" stroke="#444" stroke-width="0.8" />
<line x1="1047.5" y1="579.2" x2="1047.5" y2="610.7" stroke="#444" stroke-width="0.8" />
<line x1="1004.6" y1="585.7" x2="1145.4" y2="585.7" stroke="#444" stroke-width="0.8" />
<polygon points="1004.60,585.70 1016.60,583.50 1016.60,587.90" fill="#000"/>
<polygon points="1047.50,585.70 1035.50,587.90 1035.50,583.50" fill="#000"/>
<text x="1060.7" y="582.3" font-family="'DejaVu Sans Light','DejaVu Sans','Liberation Sans',sans-serif" font-size="15.5" fill="#888" textLength="82.7" lengthAdjust="spacing" >2.54±0.05</text>
<text x="1050" y="600.5" font-family="'DejaVu Sans Light','DejaVu Sans','Liberation Sans',sans-serif" font-size="14.4" fill="#888" textLength="121.7" lengthAdjust="spacingAndGlyphs" >(Non-Accum)</text>
<line x1="1094" y1="623.4" x2="1130.2" y2="623.4" stroke="#000" stroke-width="1.0" />
<line x1="1094" y1="662.3" x2="1130.2" y2="662.3" stroke="#000" stroke-width="1.6" />
<line x1="1124.1" y1="623.4" x2="1124.1" y2="662.3" stroke="#000" stroke-width="0.9" />
<polygon points="1124.10,623.40 1126.20,634.40 1122.00,634.40" fill="#000"/>
<polygon points="1124.10,662.30 1122.00,651.30 1126.20,651.30" fill="#000"/>
<text x="1155.5" y="705.5" font-family="'DejaVu Sans Light','DejaVu Sans','Liberation Sans',sans-serif" font-size="18.8" fill="#222" textLength="90.5" lengthAdjust="spacingAndGlyphs" transform="rotate(-90 1155.5 705.5)" stroke="#222" stroke-width="0.3" >2.54±0.0.5</text>
<text x="903.3" y="729.2" font-family="'DejaVu Sans Light','DejaVu Sans','Liberation Sans',sans-serif" font-size="17" fill="#222" textLength="116" lengthAdjust="spacing" stroke="#222" stroke-width="0.3" >PCB Layout</text>
<line x1="903.3" y1="732.3" x2="1018.8" y2="732.3" stroke="#222" stroke-width="1" />
<rect x="8" y="798.0" width="787" height="1" fill="#000" shape-rendering="crispEdges"/>
<rect x="8" y="817.0" width="787" height="1" fill="#000" shape-rendering="crispEdges"/>
<rect x="8" y="837.0" width="787" height="1" fill="#000" shape-rendering="crispEdges"/>
<rect x="8" y="857.0" width="787" height="1" fill="#000" shape-rendering="crispEdges"/>
<rect x="9" y="877.0" width="1228" height="1" fill="#000" shape-rendering="crispEdges"/>
<rect x="98.0" y="798" width="1" height="79" fill="#000" shape-rendering="crispEdges"/>
<rect x="130.0" y="798" width="1" height="79" fill="#000" shape-rendering="crispEdges"/>
<rect x="195.0" y="798" width="1" height="79" fill="#000" shape-rendering="crispEdges"/>
<rect x="609.0" y="798" width="1" height="79" fill="#000" shape-rendering="crispEdges"/>
<rect x="671.0" y="798" width="1" height="79" fill="#000" shape-rendering="crispEdges"/>
<rect x="733.0" y="798" width="1" height="79" fill="#000" shape-rendering="crispEdges"/>
<line x1="21.8" y1="848.2" x2="85" y2="848.2" stroke="#222" stroke-width="1.4" />
<line x1="142.7" y1="848.2" x2="179.6" y2="848.2" stroke="#222" stroke-width="1.4" />
<line x1="621.8" y1="848.2" x2="658.5" y2="848.2" stroke="#222" stroke-width="1.4" />
<line x1="683.8" y1="848.2" x2="720.2" y2="848.2" stroke="#222" stroke-width="1.4" />
<line x1="745.4" y1="848.2" x2="782.5" y2="848.2" stroke="#222" stroke-width="1.4" />
<text x="114.3" y="851.6" font-family="'Liberation Sans',sans-serif" font-size="9.8" fill="#000" text-anchor="middle" >A</text>
<text x="392.8" y="851" font-family="'Liberation Sans',sans-serif" font-size="10" fill="#000" textLength="21.8" lengthAdjust="spacingAndGlyphs" >NEW</text>
<text font-family="'Liberation Sans',sans-serif" font-size="10" fill="#000"><tspan x="30.5" y="870.6" textLength="20.7" lengthAdjust="spacingAndGlyphs">ECN</tspan> <tspan x="59" y="870.6" textLength="18" lengthAdjust="spacing">NO.</tspan></text>
<text x="103.3" y="871.3" font-family="'Liberation Sans',sans-serif" font-size="9.8" fill="#000" textLength="23.5" lengthAdjust="spacing" >REV.</text>
<text x="149.8" y="872.8" font-family="'Liberation Sans',sans-serif" font-size="13.3" fill="#000" textLength="34" lengthAdjust="spacingAndGlyphs" stroke="#000" stroke-width="0.18" >DATE.</text>
<text x="369.8" y="872.3" font-family="'Liberation Sans',sans-serif" font-size="13.3" fill="#000" textLength="84.5" lengthAdjust="spacingAndGlyphs" stroke="#000" stroke-width="0.18" >DESCRIPTION.</text>
<text x="614" y="872.1" font-family="'Liberation Sans',sans-serif" font-size="13.3" fill="#000" textLength="54.3" lengthAdjust="spacingAndGlyphs" stroke="#000" stroke-width="0.18" >CHANGE.</text>
<text x="681.4" y="872.1" font-family="'Liberation Sans',sans-serif" font-size="13.3" fill="#000" textLength="46" lengthAdjust="spacingAndGlyphs" stroke="#000" stroke-width="0.18" >CHECK.</text>
<text x="745.4" y="872.1" font-family="'Liberation Sans',sans-serif" font-size="13.3" fill="#000" textLength="46.6" lengthAdjust="spacingAndGlyphs" stroke="#000" stroke-width="0.18" >APPRO.</text>
<rect x="794" y="746.0" width="443" height="1" fill="#000" shape-rendering="crispEdges"/>
<rect x="794.0" y="746" width="1" height="131" fill="#000" shape-rendering="crispEdges"/>
<rect x="794" y="772.0" width="203" height="1" fill="#000" shape-rendering="crispEdges"/>
<rect x="794" y="793.0" width="443" height="1" fill="#000" shape-rendering="crispEdges"/>
<rect x="794" y="814.0" width="443" height="1" fill="#000" shape-rendering="crispEdges"/>
<rect x="794" y="835.0" width="443" height="1" fill="#000" shape-rendering="crispEdges"/>
<rect x="996" y="856.0" width="241" height="1" fill="#000" shape-rendering="crispEdges"/>
<rect x="863.0" y="772" width="1" height="64" fill="#000" shape-rendering="crispEdges"/>
<rect x="933.0" y="745" width="1" height="91" fill="#000" shape-rendering="crispEdges"/>
<rect x="996.0" y="746" width="1" height="131" fill="#000" shape-rendering="crispEdges"/>
<rect x="1065.0" y="793" width="1" height="84" fill="#000" shape-rendering="crispEdges"/>
<rect x="1150.0" y="835" width="1" height="42" fill="#000" shape-rendering="crispEdges"/>
<rect x="1236.0" y="793" width="1" height="84" fill="#000" shape-rendering="crispEdges"/>
<rect x="878.0" y="835" width="1" height="42" fill="#000" shape-rendering="crispEdges"/>
<rect x="915.0" y="835" width="1" height="42" fill="#000" shape-rendering="crispEdges"/>
<rect x="951.0" y="835" width="1" height="42" fill="#000" shape-rendering="crispEdges"/>
<rect x="878" y="845.0" width="74" height="1" fill="#000" shape-rendering="crispEdges"/>
<rect x="878" y="856.0" width="74" height="1" fill="#000" shape-rendering="crispEdges"/>
<rect x="878" y="866.0" width="74" height="1" fill="#000" shape-rendering="crispEdges"/>
<rect x="951" y="856.0" width="46" height="1" fill="#000" shape-rendering="crispEdges"/>
<text x="834" y="763.5" font-family="'Liberation Sans',sans-serif" font-size="11.5" fill="#000" textLength="59.9" lengthAdjust="spacingAndGlyphs" stroke="#000" stroke-width="0.3" >APPROVALS</text>
<text x="944.8" y="763.5" font-family="'Liberation Sans',sans-serif" font-size="11.5" fill="#000" textLength="24.2" lengthAdjust="spacingAndGlyphs" stroke="#000" stroke-width="0.3" >DATE</text>
<text x="799.7" y="787.6" font-family="'Liberation Sans',sans-serif" font-size="11.5" fill="#000" textLength="36.0" lengthAdjust="spacingAndGlyphs" stroke="#000" stroke-width="0.3" >DRAWN</text>
<text x="865.9" y="789" font-family="'Liberation Sans',sans-serif" font-size="11.5" fill="#000" textLength="64.6" lengthAdjust="spacingAndGlyphs" stroke="#000" stroke-width="0.3" >ZHIWEI.CHEN</text>
<text x="937.3" y="789" font-family="'Liberation Sans',sans-serif" font-size="11.5" fill="#000" textLength="54.7" lengthAdjust="spacingAndGlyphs" stroke="#000" stroke-width="0.3" >2015.07.07</text>
<text x="799.7" y="808.3" font-family="'Liberation Sans',sans-serif" font-size="11.5" fill="#000" textLength="48.4" lengthAdjust="spacingAndGlyphs" stroke="#000" stroke-width="0.3" >CHECKED</text>
<text x="799.7" y="829.4" font-family="'Liberation Sans',sans-serif" font-size="11.5" fill="#000" textLength="59.7" lengthAdjust="spacingAndGlyphs" stroke="#000" stroke-width="0.3" >APPROVALS</text>
<text font-family="'Liberation Sans',sans-serif" font-size="9.2" fill="#000" stroke="#000" stroke-width="0.3"><tspan x="799.3" y="857.9" textLength="53.5" lengthAdjust="spacingAndGlyphs">TOLERANCES</tspan> <tspan x="858.4" y="857.9" textLength="16.7" lengthAdjust="spacingAndGlyphs">ARE</tspan></text>
<text font-family="'Liberation Sans','Noto Sans CJK SC',sans-serif" font-size="9.2" font-weight="bold" fill="#000"><tspan x="881.3" y="843.8" textLength="17.5" lengthAdjust="spacingAndGlyphs">30~</tspan><tspan x="899" y="843.3" font-size="7.5" font-weight="normal" fill="#555" textLength="15" lengthAdjust="spacingAndGlyphs">以上</tspan></text>
<text x="921.7" y="843.8" font-family="'Liberation Sans',sans-serif" font-size="9.2" fill="#000" font-weight="bold" textLength="24.3" lengthAdjust="spacing" >±0.30</text>
<text x="882.3" y="854.2" font-family="'Liberation Sans',sans-serif" font-size="9.2" fill="#000" font-weight="bold" textLength="26.2" lengthAdjust="spacing" >10~30</text>
<text x="922.6" y="854.2" font-family="'Liberation Sans',sans-serif" font-size="9.2" fill="#000" font-weight="bold" textLength="23.4" lengthAdjust="spacing" >±0.20</text>
<text x="886" y="864.3" font-family="'Liberation Sans',sans-serif" font-size="9.2" fill="#000" font-weight="bold" textLength="22.2" lengthAdjust="spacing" >5~10</text>
<text x="922.6" y="864.5" font-family="'Liberation Sans',sans-serif" font-size="9.2" fill="#000" font-weight="bold" textLength="23.4" lengthAdjust="spacing" >±0.15</text>
<text font-family="'Liberation Sans',sans-serif" font-size="9.2" fill="#000" font-weight="bold"><tspan x="891.7" y="875.4" textLength="5.8" lengthAdjust="spacing">~</tspan> <tspan x="903.2" y="875.4" textLength="5.0" lengthAdjust="spacingAndGlyphs">5</tspan></text>
<text x="921.7" y="875.4" font-family="'Liberation Sans',sans-serif" font-size="9.2" fill="#000" font-weight="bold" textLength="24.3" lengthAdjust="spacing" >±0.10</text>
<text x="954.5" y="849.5" font-family="'Liberation Sans',sans-serif" font-size="10" fill="#000" textLength="30.0" lengthAdjust="spacingAndGlyphs" stroke="#000" stroke-width="0.3" >ANGLE</text>
<text x="963" y="869.3" font-family="'Liberation Sans',sans-serif" font-size="10.5" fill="#000" textLength="14" lengthAdjust="spacingAndGlyphs" stroke="#000" stroke-width="0.3" >±2°</text>
<text x="1010" y="808.6" font-family="'Liberation Sans',sans-serif" font-size="10" fill="#000" textLength="29" lengthAdjust="spacingAndGlyphs" stroke="#000" stroke-width="0.3" >TITLE:</text>
<text font-family="'Liberation Sans',sans-serif" font-size="11.5" fill="#000" stroke="#000" stroke-width="0.3"><tspan x="1001.7" y="829.8" textLength="26.4" lengthAdjust="spacingAndGlyphs">PART</tspan> <tspan x="1035.3" y="829.8" textLength="16.5" lengthAdjust="spacingAndGlyphs">NO.</tspan></text>
<text font-family="'Liberation Sans',sans-serif" font-size="11.5" fill="#000" stroke="#000" stroke-width="0.3"><tspan x="1000.7" y="851.9" textLength="26.0" lengthAdjust="spacingAndGlyphs">UNIT:</tspan> <tspan x="1035.3" y="851.9" textLength="19.0" lengthAdjust="spacingAndGlyphs">mm</tspan></text>
<text font-family="'Liberation Sans',sans-serif" font-size="9.5" fill="#000" stroke="#000" stroke-width="0.3"><tspan x="997.8" y="872.7" textLength="41.7" lengthAdjust="spacingAndGlyphs">DRAWING</tspan> <tspan x="1046.7" y="872.7" textLength="15.8" lengthAdjust="spacingAndGlyphs">NO.</tspan></text>
<text font-family="'Liberation Sans',sans-serif" font-size="11" fill="#000" stroke="#000" stroke-width="0.3"><tspan x="1076.2" y="851.4" textLength="35.4" lengthAdjust="spacingAndGlyphs">SCALE:</tspan> <tspan x="1126" y="851.4" textLength="14.5" lengthAdjust="spacingAndGlyphs">1:1</tspan></text>
<text x="1157.4" y="849.4" font-family="'Liberation Sans',sans-serif" font-size="9.5" fill="#000" textLength="26.3" lengthAdjust="spacingAndGlyphs" stroke="#000" stroke-width="0.3" >PROJ:</text>
<text font-family="'Liberation Sans',sans-serif" font-size="9" fill="#000" stroke="#000" stroke-width="0.3"><tspan x="1160.7" y="870.6" textLength="26.1" lengthAdjust="spacingAndGlyphs">SHEET</tspan> <tspan x="1200.2" y="870.6" textLength="3.6" lengthAdjust="spacingAndGlyphs">1</tspan> <tspan x="1210.9" y="870.6" textLength="9.9" lengthAdjust="spacingAndGlyphs">OF</tspan> <tspan x="1228.3" y="870.6" textLength="3.6" lengthAdjust="spacingAndGlyphs">1</tspan></text>
<line x1="1090.4" y1="868.6" x2="1139.8" y2="868.6" stroke="#222" stroke-width="1.3" />
<circle cx="1195.5" cy="845.7" r="6.5" fill="none" stroke="#000" stroke-width="1.4"/>
<circle cx="1195.5" cy="845.7" r="3" fill="none" stroke="#000" stroke-width="1.3"/>
<line x1="1184.8" y1="845.7" x2="1234.2" y2="845.7" stroke="#000" stroke-width="1.1" />
<line x1="1195.5" y1="837.4" x2="1195.5" y2="854.5" stroke="#000" stroke-width="1.1" />
<path d="M1208.5,842.6 L1230.1,839 V852.4 L1208.5,848.8 Z" stroke="#000" stroke-width="1.3" fill="none" />
<text x="1014.5" y="772.3" font-family="'Noto Sans CJK SC','WenQuanYi Zen Hei',sans-serif" font-size="18.3" fill="#000" font-weight="900" textLength="207" lengthAdjust="spacing" stroke="#000" stroke-width="0.4" >深圳市联丰盈电子有限公司</text>
<text x="1015.1" y="787.6" font-family="'Liberation Serif',serif" font-size="8.6" fill="#000" font-weight="bold" textLength="205.7" lengthAdjust="spacing" >SHENZHEN LINFENYING ELECTRONIC CO.,LTD</text>
<text x="1087.3" y="829.4" font-family="'Liberation Sans',sans-serif" font-size="13.2" fill="#16164a" textLength="130.4" lengthAdjust="spacing" >GP26-2520WV-3xNP</text>
</svg></body></html>
